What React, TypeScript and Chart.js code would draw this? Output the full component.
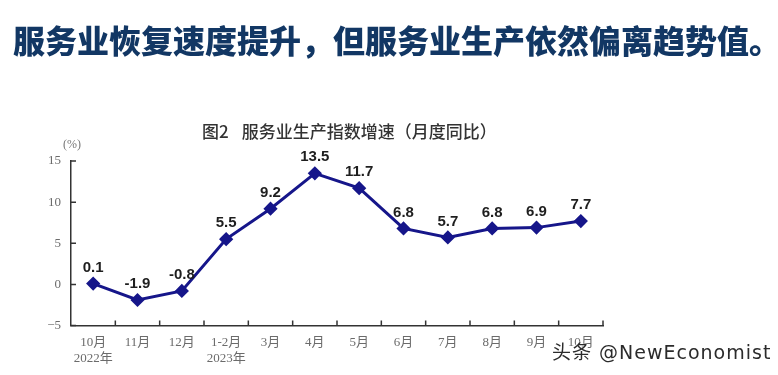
import { useEffect, useRef } from 'react';
import { Chart, registerables } from 'chart.js';

Chart.register(...registerables);

const categories: (string | string[])[] = [
  ['10月', '2022年'], '11月', '12月', ['1-2月', '2023年'], '3月', '4月', '5月', '6月', '7月', '8月', '9月', '10月',
];
const growth: number[] = [0.1, -1.9, -0.8, 5.5, 9.2, 13.5, 11.7, 6.8, 5.7, 6.8, 6.9, 7.7];
const yMin = -5;
const yMax = 15;
const yStep = 5;

const titleText = '服务业恢复速度提升，但服务业生产依然偏离趋势值。';
const subtitleFig = '图2';
const subtitleText = '服务业生产指数增速（月度同比）';
const unitText = '(%)';
const watermarkText = '头条 @NewEconomist';

export default function App() {
  const ref = useRef<HTMLCanvasElement>(null);

  useEffect(() => {
    const innerTicks = {
      id: 'innerTicks',
      afterDatasetsDraw(chart: any) {
        const { ctx, chartArea: a } = chart;
        const xs = chart.scales.x;
        const ys = chart.scales.y;
        ctx.save();
        ctx.strokeStyle = '#333';
        ctx.lineWidth = 1.5;
        ctx.beginPath();
        const n = categories.length;
        for (let i = 1; i <= n; i++) {
          const px = i < n ? (xs.getPixelForValue(i - 1) + xs.getPixelForValue(i)) / 2 : a.right;
          ctx.moveTo(px, a.bottom);
          ctx.lineTo(px, a.bottom - 5);
        }
        ys.ticks.forEach((t: any) => {
          const py = ys.getPixelForValue(t.value);
          ctx.moveTo(a.left, py);
          ctx.lineTo(a.left + 5, py);
        });
        ctx.stroke();
        ctx.restore();
      },
    };
    const valueLabels = {
      id: 'valueLabels',
      afterDatasetsDraw(chart: any) {
        const { ctx } = chart;
        const meta = chart.getDatasetMeta(0);
        ctx.save();
        ctx.font = 'bold 15px "Liberation Sans", Arial, sans-serif';
        ctx.fillStyle = '#1e1e1e';
        ctx.textAlign = 'center';
        ctx.textBaseline = 'middle';
        meta.data.forEach((pt: any, i: number) => {
          ctx.fillText(growth[i].toFixed(1), pt.x, pt.y - 16);
        });
        ctx.restore();
      },
    };

    const chart = new Chart(ref.current as HTMLCanvasElement, {
      type: 'line',
      data: {
        labels: categories as any,
        datasets: [
          {
            data: growth,
            borderColor: '#16168a',
            backgroundColor: '#16168a',
            borderWidth: 3,
            pointStyle: 'rectRot',
            pointRadius: 5,
            pointBackgroundColor: '#16168a',
            pointBorderColor: '#16168a',
            tension: 0,
          },
        ],
      },
      options: {
        animation: false,
        responsive: false,
        maintainAspectRatio: false,
        devicePixelRatio: 1,
        layout: { padding: { top: 161, left: 0, right: 175, bottom: 0 } },
        plugins: { legend: { display: false }, tooltip: { enabled: false }, title: { display: false } },
        scales: {
          x: {
            type: 'category',
            offset: true,
            grid: { display: false, drawTicks: false, offset: true },
            border: { display: true, color: '#333', width: 1.5 },
            ticks: {
              color: '#6b6b6b',
              font: { family: '"Liberation Serif", "Noto Sans CJK SC", serif', size: 13, lineHeight: 1.25 },
              padding: 9,
              maxRotation: 0,
              autoSkip: false,
            },
            afterFit: (s: any) => { s.height = 49.5; },
          },
          y: {
            min: yMin,
            max: yMax,
            grid: { display: false, drawTicks: false },
            border: { display: true, color: '#333', width: 1.5 },
            ticks: {
              stepSize: yStep,
              color: '#6b6b6b',
              padding: 10,
              font: { family: '"Liberation Serif", serif', size: 13 },
              callback: (v: any) => (Number(v) < 0 ? '\u2212' + Math.abs(Number(v)) : String(v)),
            },
            afterFit: (s: any) => { s.width = 71; },
          },
        },
      },
      plugins: [innerTicks, valueLabels],
    } as any);
    return () => chart.destroy();
  }, []);

  return (
    <div style={{ position: 'absolute', left: 0, top: 0, width: 778, height: 375, background: '#fff', overflow: 'hidden' }}>
      <canvas ref={ref} width={778} height={375} style={{ position: 'absolute', left: 0, top: 0, width: 778, height: 375 }} />
      <div
        style={{
          position: 'absolute', left: 13, top: 23, whiteSpace: 'nowrap',
          fontFamily: '"Noto Sans CJK SC", sans-serif', fontWeight: 900, fontSize: 32, lineHeight: '32px', color: '#123764',
        }}
      >
        {titleText}
      </div>
      <div
        style={{
          position: 'absolute', left: 202, top: 122, whiteSpace: 'nowrap',
          fontFamily: '"Noto Sans CJK SC", sans-serif', fontWeight: 500, fontSize: 17, lineHeight: '17px', color: '#333',
        }}
      >
        {subtitleFig}
        <span style={{ marginLeft: 13 }}>{subtitleText}</span>
      </div>
      <div
        style={{
          position: 'absolute', left: 63, top: 137, whiteSpace: 'nowrap',
          fontFamily: '"Liberation Serif", serif', fontSize: 12, lineHeight: '14px', color: '#777',
        }}
      >
        {unitText}
      </div>
      <div
        style={{
          position: 'absolute', left: 552, top: 342, whiteSpace: 'nowrap',
          fontFamily: '"DejaVu Sans", "Noto Sans CJK SC", sans-serif', fontSize: 19, lineHeight: '21px', letterSpacing: 1,
          color: '#2b2b2b', textShadow: '0 0 2px #fff, 0 0 2px #fff',
        }}
      >
        {watermarkText}
      </div>
    </div>
  );
}
